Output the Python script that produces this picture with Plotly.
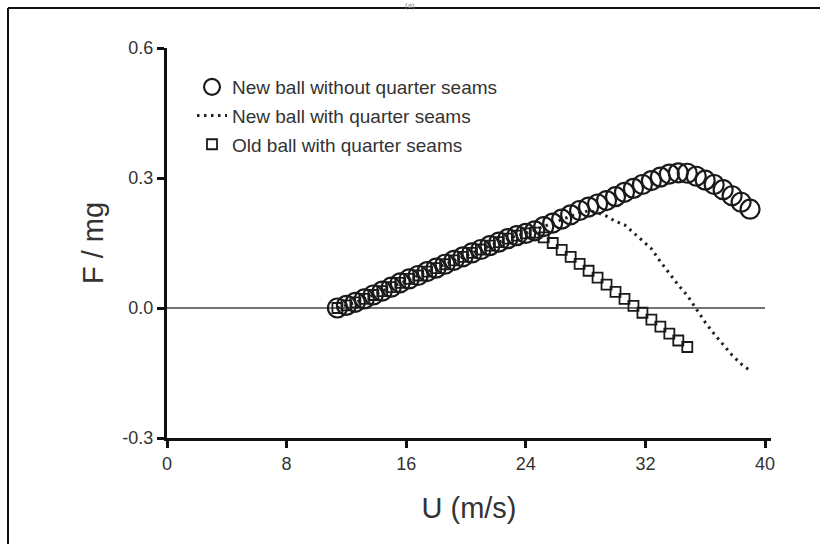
import plotly.graph_objects as go

# ---- data ----
u_new = [11.4, 12.0, 12.6, 13.2, 13.8, 14.4, 15.0, 15.6, 16.2, 16.8, 17.4, 18.0,
         18.6, 19.2, 19.8, 20.4, 21.0, 21.6, 22.2, 22.8, 23.4, 24.0, 24.6, 25.2,
         25.8, 26.4, 27.0, 27.6, 28.2, 28.8, 29.4, 30.0, 30.6, 31.2, 31.8, 32.4,
         33.0, 33.6, 34.2, 34.8, 35.4, 36.0, 36.6, 37.2, 37.8, 38.4, 39.0]
f_new = [0.000, 0.006, 0.013, 0.021, 0.030, 0.039, 0.048, 0.058, 0.067, 0.075, 0.084, 0.092,
         0.101, 0.110, 0.118, 0.127, 0.135, 0.144, 0.152, 0.160, 0.167, 0.172, 0.178, 0.188,
         0.196, 0.205, 0.215, 0.225, 0.233, 0.240, 0.248, 0.257, 0.267, 0.276, 0.285, 0.294,
         0.302, 0.309, 0.312, 0.311, 0.304, 0.295, 0.285, 0.273, 0.259, 0.244, 0.228]

u_newq = [11.4, 12.0, 12.6, 13.2, 13.8, 14.4, 15.0, 15.6, 16.2, 16.8, 17.4, 18.0,
          18.6, 19.2, 19.8, 20.4, 21.0, 21.6, 22.2, 22.8, 23.4, 24.0, 24.6, 25.2,
          25.8, 26.4, 27.0, 27.6, 28.2, 28.8, 29.4, 30.0, 30.6, 31.2, 31.8, 32.4,
          33.0, 33.6, 34.2, 34.8, 35.4, 36.0, 36.6, 37.2, 37.8, 38.4, 38.9]
f_newq = [0.000, 0.006, 0.013, 0.021, 0.030, 0.039, 0.048, 0.058, 0.067, 0.075, 0.084, 0.092,
          0.101, 0.110, 0.118, 0.127, 0.135, 0.144, 0.152, 0.160, 0.167, 0.172, 0.180, 0.188,
          0.196, 0.205, 0.213, 0.220, 0.224, 0.220, 0.212, 0.200, 0.192, 0.174, 0.155, 0.137,
          0.107, 0.080, 0.053, 0.029, -0.002, -0.033, -0.060, -0.085, -0.109, -0.129, -0.142]

u_old = [11.4, 12.0, 12.6, 13.2, 13.8, 14.4, 15.0, 15.6, 16.2, 16.8, 17.4, 18.0,
         18.6, 19.2, 19.8, 20.4, 21.0, 21.6, 22.2, 22.8, 23.4, 24.0, 24.6, 25.2,
         25.8, 26.4, 27.0, 27.6, 28.2, 28.8, 29.4, 30.0, 30.6, 31.2, 31.8, 32.4,
         33.0, 33.6, 34.2, 34.8]
f_old = [0.000, 0.006, 0.013, 0.021, 0.030, 0.039, 0.048, 0.058, 0.067, 0.075, 0.084, 0.092,
         0.101, 0.110, 0.118, 0.127, 0.135, 0.144, 0.152, 0.160, 0.167, 0.172, 0.174, 0.163,
         0.150, 0.134, 0.118, 0.102, 0.086, 0.070, 0.054, 0.037, 0.021, 0.005, -0.011, -0.027,
         -0.043, -0.059, -0.075, -0.090]

x_ticks = [0, 8, 16, 24, 32, 40]
y_ticks = [-0.3, 0.0, 0.3, 0.6]
y_tick_labels = ["-0.3", "0.0", "0.3", "0.6"]

names = ["New ball without quarter seams",
         "New ball with quarter seams",
         "Old ball with quarter seams"]

# ---- layout geometry (pixels) ----
W, H = 820, 544
L, R, T, B = 167, 49, 48, 106
pw, ph = W - L - R, H - T - B

def px_x(p):
    return (p - L) / pw

def px_y(p):
    return (H - B - p) / ph

font_fam = "Liberation Sans, Arial, sans-serif"

fig = go.Figure()

fig.add_trace(go.Scatter(
    x=u_newq, y=f_newq, mode="lines", name=names[1], legendgroup="b", legendrank=2,
    line=dict(color="#222", width=3, dash="2.5px,4.5px"),
))
fig.add_trace(go.Scatter(
    x=u_old, y=f_old, mode="markers", name=names[2], legendgroup="c", legendrank=3,
    marker=dict(symbol="square-open", size=10, color="#1a1a1a", line=dict(width=1.8)),
))
fig.add_trace(go.Scatter(
    x=u_new, y=f_new, mode="markers", name=names[0], legendgroup="a", legendrank=1,
    marker=dict(symbol="circle-open", size=19, color="#1a1a1a", line=dict(width=2.2)),
))

# zero reference line
fig.add_shape(type="line", xref="x", yref="y", x0=0, x1=40, y0=0, y1=0,
              line=dict(color="#444", width=1.3), layer="below")

# outer frame of the original figure (left and top edges visible)
fig.add_shape(type="line", xref="paper", yref="paper",
              x0=px_x(8), x1=px_x(8), y0=px_y(8), y1=px_y(560),
              line=dict(color="#111", width=2))
fig.add_shape(type="line", xref="paper", yref="paper",
              x0=px_x(8), x1=px_x(830), y0=px_y(8), y1=px_y(8),
              line=dict(color="#111", width=2))

fig.add_annotation(text="(a)", xref="paper", yref="paper", x=px_x(410), y=px_y(-1),
                   yanchor="top", showarrow=False,
                   font=dict(family=font_fam, size=8, color="#888"))

fig.update_layout(
    width=W, height=H,
    margin=dict(l=L, r=R, t=T, b=B),
    paper_bgcolor="white", plot_bgcolor="white",
    font=dict(family=font_fam, color="#333"),
    showlegend=True,
    legend=dict(
        x=px_x(192), y=px_y(68), xanchor="left", yanchor="top",
        traceorder="grouped", tracegroupgap=1,
        font=dict(family=font_fam, size=19, color="#333"),
        bgcolor="rgba(0,0,0,0)", itemwidth=30,
    ),
    xaxis=dict(
        range=[0, 40.4], tickmode="array", tickvals=x_ticks,
        ticks="outside", ticklen=7, tickwidth=3, tickcolor="#111",
        showline=True, linewidth=3, linecolor="#111",
        showgrid=False, zeroline=False,
        tickfont=dict(family=font_fam, size=18, color="#333"),
        title=dict(text="U (m/s)", standoff=26,
                   font=dict(family=font_fam, size=29, color="#333")),
    ),
    yaxis=dict(
        range=[-0.3, 0.6], tickmode="array", tickvals=y_ticks, ticktext=y_tick_labels,
        ticks="outside", ticklen=7, tickwidth=3, tickcolor="#111",
        showline=True, linewidth=3, linecolor="#111",
        showgrid=False, zeroline=False,
        tickfont=dict(family=font_fam, size=18, color="#333"),
        title=dict(text="F / mg", standoff=11,
                   font=dict(family=font_fam, size=29, color="#333")),
    ),
)

fig.write_html("out.html")
